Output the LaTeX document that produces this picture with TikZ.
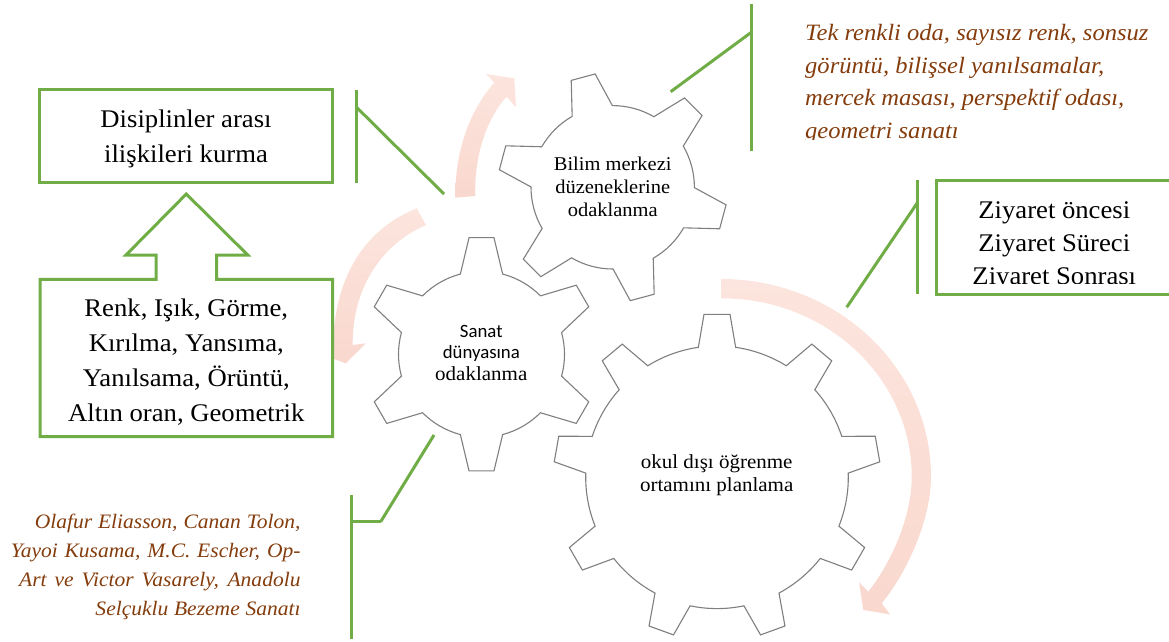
\documentclass[tikz,border=0pt]{standalone}
\usepackage{fontspec}
\newfontfamily\pala[FakeStretch=1.05]{Liberation Serif}
\newfontfamily\cali{Carlito}
\definecolor{leaf}{HTML}{70AD47}
\definecolor{rust}{HTML}{843C0C}
\definecolor{cogline}{HTML}{7F7F7F}
\definecolor{pinktop}{HTML}{FCE5DE}
\definecolor{pinkbot}{HTML}{F9D8CE}
\tikzset{
  greenbox/.style={draw=leaf,line width=3pt,fill=white,inner sep=0pt,outer sep=0pt},
  greenline/.style={draw=leaf,line width=3pt},
  pinkarrow/.style={top color=pinktop,bottom color=pinkbot,draw=none},
  cogedge/.style={draw=cogline,line width=1.1pt,fill=white,line join=miter},
  boxtext/.style={align=center,text=black,font=\pala\fontsize{25.4}{35}\selectfont},
  cogtext/.style={align=center,text=black,font=\pala\fontsize{20}{23.4}\selectfont},
  rusttext/.style={text=rust,inner sep=0pt,font=\pala\itshape\fontsize{23.4}{32.7}\selectfont}
}
% x y teeth root tip rootangle tipangle rotation
\newcommand{\cog}[8]{%
  \draw[cogedge,shift={(#1,#2)}] ({#8-#6}:#4pt)
    \foreach \k [evaluate=\k as \c using {#8+360*\k/#3}] in {1,...,#3} {
      -- ({\c-360/#3-#6}:#4pt) -- ({\c-360/#3-#7}:#5pt) -- ({\c-360/#3+#7}:#5pt) -- ({\c-360/#3+#6}:#4pt)
      arc[start angle={\c-360/#3+#6},end angle={\c-#6},radius=#4pt]
    } -- cycle;}
\newcommand{\jline}[2]{\hbox to #1pt{#2}}

\begin{document}
\begin{tikzpicture}[x=1pt,y=-1pt]
  \useasboundingbox (0,0) rectangle (1169,642);
  \clip (0,0) rectangle (1169,642);

  % arrows
  \shade[pinkarrow] (455.3,197.7) .. controls (455,150) and (470,110) .. (494.3,82.7)
    -- (486,74) -- (514.3,78.3) -- (516,107.3) -- (506.7,96.7)
    .. controls (487,118) and (474,155) .. (475.3,196) -- cycle;
  \shade[pinkarrow] (416.7,208.3) .. controls (368,228) and (335,272) .. (333,345)
    -- (315,352) -- (345.7,363.3) -- (365.7,343.3) -- (352.7,345)
    .. controls (352,290) and (380,245) .. (426,225) -- cycle;
  \shade[pinkarrow] (721,279) .. controls (837,279) and (931,367.5) .. (931,476.7)
    .. controls (931,520) and (906.7,573) .. (881.7,603.3)
    -- (890,614.3) -- (863.3,610) -- (859,582.3) -- (868.3,591.7)
    .. controls (893,560) and (911.7,515) .. (911.7,476.7)
    .. controls (911.7,378.2) and (826.7,298.3) .. (721.7,298.3) -- cycle;

  % gears
  \cog{612.7}{187.3}{6}{81.7}{114.7}{14.75}{6.2}{105}
  \cog{481.5}{354.3}{6}{83}{117.3}{14.76}{6.1}{90}
  \cog{717}{477.3}{9}{131.3}{163.5}{8.17}{4.56}{90}

  \node[cogtext,font=\pala\fontsize{19.5}{23}\selectfont] (bilim) at (612.7,187) {Bilim merkezi\\düzeneklerine\\odaklanma};
  \node[cogtext,font=\pala\fontsize{20}{21.5}\selectfont] (sanat) at (481.3,352.5) {{\cali\fontsize{18.8}{21.5}\selectfont Sanat}\\{\cali\fontsize{18.8}{21.5}\selectfont dünyasına}\\odaklanma};
  \node[cogtext] (okul) at (716.7,475) {okul dışı öğrenme\\ortamını planlama};

  % boxes
  \node[greenbox,minimum width=292.7pt,minimum height=92.7pt] (kurma) at (186.3,136.3) {};
  \node[boxtext] (kurmatext) at (186,139) {Disiplinler arası\\ilişkileri kurma};
  \draw[greenbox] (40,279.3) -- (156,279.3) -- (156,255) -- (126,255) -- (186.3,194)
    -- (247.7,255) -- (216.7,255) -- (216.7,279.3) -- (332.7,279.3) -- (332.7,436.7)
    -- (40,436.7) -- cycle;
  \node[boxtext] (renk) at (186.3,362.5) {Renk, Işık, Görme,\\Kırılma, Yansıma,\\Yanılsama, Örüntü,\\Altın oran, Geometrik};
  \node[greenbox,minimum width=250pt,minimum height=113.7pt] (ziyaret) at (1061.7,237.2) {};
  \begin{scope}
    \clip (930,190) rectangle (1169,283);
    \node[boxtext,font=\pala\fontsize{25.4}{33}\selectfont] (ziyarettext) at (1054.3,245.5) {Ziyaret öncesi\\Ziyaret Süreci\\Ziyaret Sonrası};
  \end{scope}

  % notes
  \begin{scope}
    \clip (800,10) rectangle (1169,139.5);
    \node[rusttext,align=left,anchor=west] (tek) at (805,84) {Tek renkli oda, sayısız renk, sonsuz\\görüntü, bilişsel yanılsamalar,\\mercek masası, perspektif odası,\\geometri sanatı};
  \end{scope}
  \node[rusttext,align=right,anchor=east,font=\pala\itshape\fontsize{20.5}{29.1}\selectfont] (olafur) at (300.7,567) {\jline{265.7}{Olafur Eliasson, Canan Tolon,}\\\jline{289.7}{Yayoi Kusama, M.C. Escher, Op-}\\\jline{281.3}{Art ve Victor Vasarely, Anadolu}\\\jline{205}{Selçuklu Bezeme Sanatı}};

  % brackets
  \coordinate (a1) at (356,90);
  \coordinate (a2) at (356,182.7);
  \coordinate (a3) at (356,106.7);
  \coordinate (a4) at (444,194);
  \coordinate (b1) at (751.3,4);
  \coordinate (b2) at (751.3,151);
  \coordinate (b3) at (751.3,32.3);
  \coordinate (b4) at (670.7,91.7);
  \coordinate (c1) at (917,180.3);
  \coordinate (c2) at (917,294);
  \coordinate (c3) at (917,203.3);
  \coordinate (c4) at (846.7,307.3);
  \coordinate (d1) at (351.3,495);
  \coordinate (d2) at (351.3,639.3);
  \coordinate (d3) at (351.3,521.7);
  \coordinate (d4) at (380.7,521.7);
  \coordinate (d5) at (434,435);

  \foreach \from/\to in {a1/a2,a3/a4,b1/b2,b3/b4,c1/c2,c3/c4,d1/d2,d3/d4,d4/d5}
    \draw[greenline] (\from) -- (\to);
\end{tikzpicture}
\end{document}
